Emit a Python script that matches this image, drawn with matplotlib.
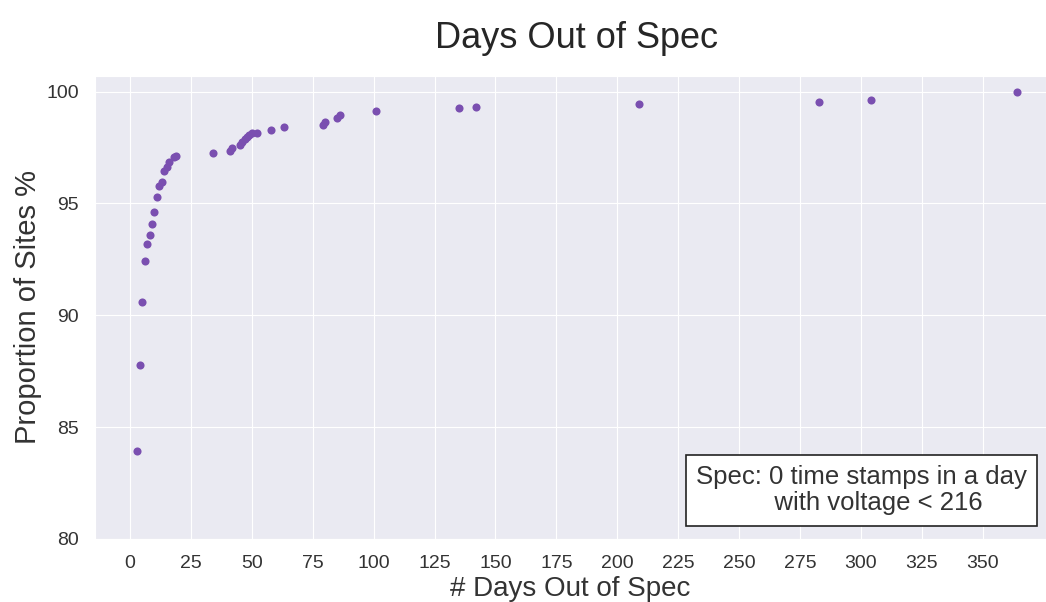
import matplotlib
matplotlib.use('Agg')
import matplotlib.pyplot as plt
import seaborn as sns
import numpy as np

# data
days_out = [3, 4, 5, 6, 7, 8, 9, 10, 11, 12, 13, 14, 15, 16, 18, 19,
            34, 41, 42, 45, 46, 47, 48, 49, 50, 52, 58, 63, 79, 80, 85, 86,
            101, 135, 142, 209, 283, 304, 364]
prop_sites = [83.94, 87.80, 90.58, 92.44, 93.20, 93.59, 94.10, 94.61, 95.27,
              95.80, 95.97, 96.44, 96.64, 96.84, 97.08, 97.14,
              97.26, 97.34, 97.46, 97.60, 97.75, 97.86, 97.96, 98.08, 98.13,
              98.17, 98.30, 98.42, 98.51, 98.62, 98.81, 98.94,
              99.14, 99.26, 99.33, 99.45, 99.52, 99.64, 100.0]
x_ticks = list(range(0, 351, 25))
y_ticks = [80, 85, 90, 95, 100]
spec_note = 'Spec: 0 time stamps in a day\n           with voltage < 216'

sns.set_style('darkgrid')
plt.rcParams['font.family'] = ['Liberation Sans', 'DejaVu Sans']

fig = plt.figure(figsize=(10.46, 6.02), dpi=100)
ax = fig.add_axes([0.0908, 0.1047, 0.9092, 0.7691])

ax.scatter(days_out, prop_sites, s=34, color='#7a4fb0', linewidths=0, zorder=3)

ax.set_xlim(-14.4, 376)
ax.set_ylim(80, 100.7)
ax.set_xticks(x_ticks)
ax.set_yticks(y_ticks)
ax.tick_params(labelsize=14, colors='#333333')
ax.tick_params(axis='x', pad=8)
ax.tick_params(axis='y', pad=8)

ax.set_title('Days Out of Spec', fontsize=26, pad=20, color='#262626', x=0.506)
ax.set_xlabel('# Days Out of Spec', fontsize=20, color='#333333', labelpad=3)
ax.set_ylabel('Proportion of Sites %', fontsize=21, color='#333333', labelpad=3)

ax.text(0.632, 0.105, spec_note, transform=ax.transAxes, fontsize=18.5,
        color='#333333', ha='left', va='center', linespacing=1.1,
        bbox=dict(boxstyle='square,pad=0.4', fc='white', ec='#222222', lw=1.2),
        zorder=5)

fig.savefig('out.png', dpi=100)
